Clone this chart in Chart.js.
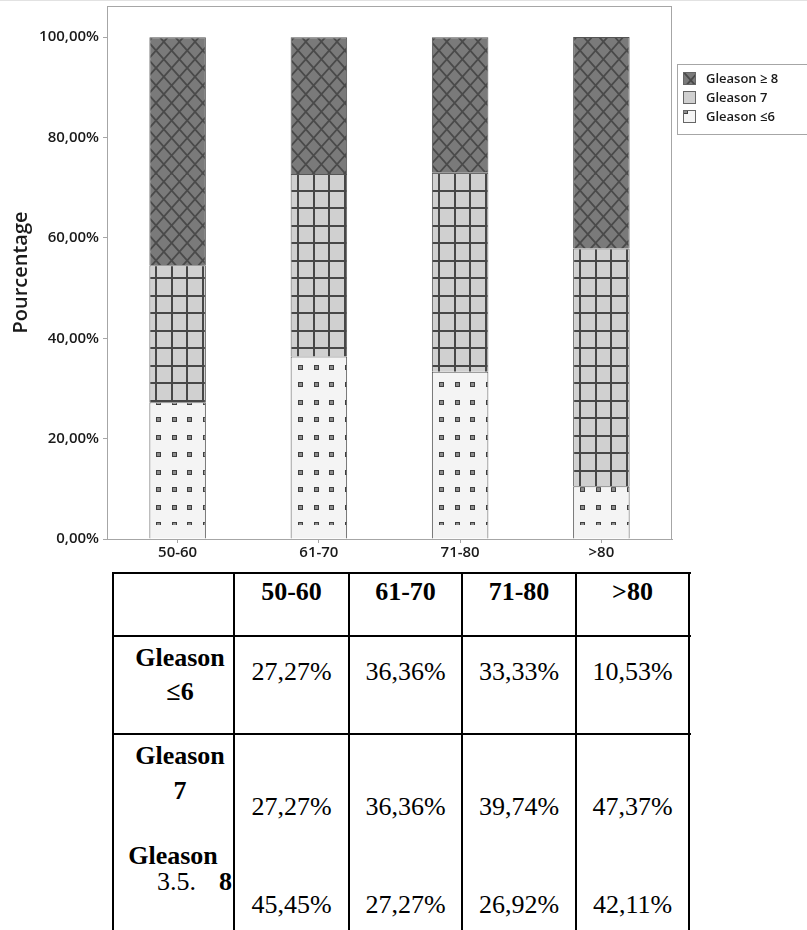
<!DOCTYPE html>
<html lang="fr">
<head>
<meta charset="UTF-8">
<title>Gleason par tranche d'âge</title>
<script src="https://cdn.jsdelivr.net/npm/chart.js@4.4.0/dist/chart.umd.min.js"></script>
<style>
  body{margin:0;background:#fff;}
  #page{position:relative;width:807px;height:930px;overflow:hidden;}
  #chart1{position:absolute;left:0;top:0;}
  .ln{position:absolute;background:#000;}
  .cell{position:absolute;width:160px;text-align:center;font-family:"Liberation Serif","Times New Roman",serif;font-size:26px;line-height:30px;color:#000;white-space:nowrap;}
  .b{font-weight:bold;}
</style>
</head>
<body>
<div id="page">
  <canvas id="chart1" width="807" height="566"></canvas>
  <div id="tbl"></div>
</div>
<script>
const categories = ['50-60', '61-70', '71-80', '>80'];
const gleason6 = [27.27, 36.36, 33.33, 10.53];
const gleason7 = [27.27, 36.36, 39.74, 47.37];
const gleason8 = [45.45, 27.27, 26.92, 42.11];
const yTicks = [0, 20, 40, 60, 80, 100];

const fmt = v => v.toFixed(2).replace('.', ',') + '%';

// motifs (hachures facon Minitab), tuile de 10x10 cellules
const CW = 15.6, CH = 17.5;
function tile(fill, draw) {
    const c = document.createElement('canvas');
    c.width = 156; c.height = 175;
    const g = c.getContext('2d');
    g.fillStyle = fill;
    g.fillRect(0, 0, 156, 175);
    draw(g);
    return c;
}
const tiles = {
    g8: tile('#7a7a7a', g => {
        g.strokeStyle = '#4a4a4a'; g.lineWidth = 1.8;
        g.beginPath();
        for (let i = -12; i <= 22; i++) {
            const x0 = 7 + i * CW - 15.5 * CW / CH;
            g.moveTo(x0, 0); g.lineTo(x0 + 10 * CW, 175);
            const x1 = 7 + i * CW + 15.5 * CW / CH;
            g.moveTo(x1, 0); g.lineTo(x1 - 10 * CW, 175);
        }
        g.stroke();
    }),
    g7: tile('#d0d0d0', g => {
        g.fillStyle = '#474747';
        for (let i = 0; i < 10; i++) {
            g.fillRect(Math.round(7 + i * CW) - 1, 0, 2, 175);
            g.fillRect(0, Math.round(15.5 + i * CH) - 1, 156, 2);
        }
    }),
    g6: tile('#f4f4f4', g => {
        for (let i = 0; i < 10; i++) {
            for (let j = 0; j < 10; j++) {
                const cx = Math.round(9 + i * CW), cy = Math.round(16.5 + j * CH) % 175;
                g.fillStyle = '#3f3f3f'; g.fillRect(cx - 2, cy - 2, 5, 5);
                g.fillStyle = '#8c8c8c'; g.fillRect(cx - 1, cy - 1, 3, 3);
            }
        }
    })
};

function barFill(key) {
    return c => {
        const chart = c.chart;
        const pat = chart.ctx.createPattern(tiles[key], 'repeat');
        const x = chart.scales.x;
        if (!x || c.dataIndex === undefined) return pat;
        const w = x.width / categories.length * 0.4;
        const left = Math.round(x.getPixelForValue(c.dataIndex) - w / 2);
        pat.setTransform(new DOMMatrix([1, 0, 0, 1, left, 0]));
        return pat;
    };
}

// cadre du graphique + legende encadree
const frame = {
    id: 'frame',
    beforeDraw(chart) {
        const ctx = chart.ctx;
        ctx.save();
        ctx.fillStyle = '#e2e2e2';
        ctx.fillRect(0, 0, 807, 1);
        ctx.restore();
    },
    afterDraw(chart) {
        const ctx = chart.ctx, a = chart.chartArea;
        ctx.save();
        ctx.strokeStyle = '#a6a6a6';
        ctx.lineWidth = 1;
        ctx.strokeRect(Math.round(a.left) + 0.5, Math.round(a.top) + 0.5,
            Math.round(a.right - a.left) - 1, Math.round(a.bottom - a.top));

        ctx.strokeRect(677.5, 64.5, 140, 70);
        const order = [2, 1, 0];
        const keys = ['g6', 'g7', 'g8'];
        order.forEach((d, k) => {
            const yc = 79 + k * 19;
            const pat = ctx.createPattern(tiles[keys[d]], 'repeat');
            pat.setTransform(new DOMMatrix([1, 0, 0, 1, 676, yc - 23]));
            ctx.fillStyle = pat;
            ctx.fillRect(683, yc - 7, 13, 13);
            ctx.strokeStyle = '#666';
            ctx.strokeRect(683.5, yc - 6.5, 12, 12);
            ctx.fillStyle = '#1a1a1a';
            ctx.font = '600 13px "Open Sans"';
            ctx.textBaseline = 'middle';
            ctx.textAlign = 'left';
            ctx.fillText(chart.data.datasets[d].label, 706, yc);
        });
        ctx.restore();
    }
};

const ctx = document.getElementById('chart1').getContext('2d');
new Chart(ctx, {
    type: 'bar',
    data: {
        labels: categories,
        datasets: [
            { label: 'Gleason ≤6', data: gleason6, backgroundColor: barFill('g6') },
            { label: 'Gleason 7', data: gleason7, backgroundColor: barFill('g7') },
            { label: 'Gleason ≥ 8', data: gleason8, backgroundColor: barFill('g8') }
        ]
    },
    options: {
        responsive: false,
        animation: false,
        events: [],
        layout: { padding: { left: 0, right: 135, top: 6, bottom: 0 } },
        datasets: {
            bar: {
                barPercentage: 0.4,
                categoryPercentage: 1.0,
                borderWidth: 1,
                borderColor: '#555'
            }
        },
        plugins: {
            legend: { display: false },
            tooltip: { enabled: false }
        },
        scales: {
            x: {
                stacked: true,
                grid: { offset: false, drawOnChartArea: false, drawTicks: true, tickLength: 4, color: '#a6a6a6' },
                border: { display: true, color: '#a6a6a6' },
                ticks: { color: '#1a1a1a', font: { family: 'Open Sans', size: 15, weight: '600' }, padding: 1, maxRotation: 0 },
                afterFit: s => { s.height = 27; s.paddingLeft = 0; s.paddingRight = 0; }
            },
            y: {
                stacked: true,
                min: 0,
                max: 106.2,
                afterBuildTicks: s => { s.ticks = yTicks.map(v => ({ value: v })); },
                grid: { drawOnChartArea: false, drawTicks: true, tickLength: 4, color: '#a6a6a6' },
                border: { display: true, color: '#a6a6a6' },
                ticks: {
                    color: '#1a1a1a',
                    font: { family: 'Open Sans', size: 15, weight: '600' },
                    padding: 4,
                    callback: v => fmt(v)
                },
                title: {
                    display: true,
                    text: 'Pourcentage',
                    color: '#1a1a1a',
                    font: { family: 'Open Sans', size: 20, weight: '600' },
                    padding: { top: 9, bottom: 0 }
                },
                afterFit: s => { s.width = 107; s.paddingTop = 0; s.paddingBottom = 0; }
            }
        }
    },
    plugins: [frame]
});

// tableau des pourcentages
const colX = [113, 234, 349, 462, 576, 689];
const tbl = document.getElementById('tbl');
function line(x, y, w, h) {
    const d = document.createElement('div');
    d.className = 'ln';
    d.style.left = x + 'px'; d.style.top = y + 'px';
    d.style.width = w + 'px'; d.style.height = h + 'px';
    tbl.appendChild(d);
}
function txt(s, cx, cy, bold, alignLeft) {
    const d = document.createElement('div');
    d.className = 'cell' + (bold ? ' b' : '');
    d.textContent = s;
    if (alignLeft) { d.style.textAlign = 'left'; d.style.left = cx + 'px'; }
    else d.style.left = (cx - 80) + 'px';
    d.style.top = (cy - 15) + 'px';
    tbl.appendChild(d);
}
[573, 636, 734].forEach(y => line(113, y - 1, 578, 2));
colX.forEach(x => line(x - 1, 572, 2, 360));

const mid = i => (colX[i + 1] + colX[i + 2]) / 2;
categories.forEach((c, i) => txt(c, mid(i), 592, true));

txt('Gleason', 180, 658, true);
txt('≤6', 180, 692, true);
gleason6.forEach((v, i) => txt(fmt(v), mid(i), 672));

txt('Gleason', 180, 756, true);
txt('7', 180, 791, true);
gleason7.forEach((v, i) => txt(fmt(v), mid(i), 807));

txt('Gleason', 173, 856, true);
txt('3.5.', 157, 882, false, true);
txt('8', 219, 882, true, true);
gleason8.forEach((v, i) => txt(fmt(v), mid(i), 905));
</script>
</body>
</html>
